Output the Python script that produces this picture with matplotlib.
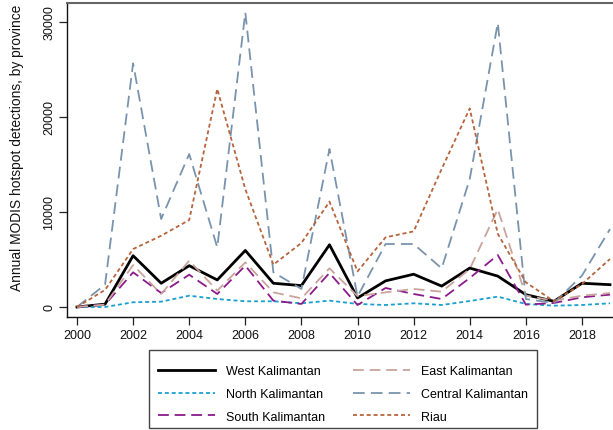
import matplotlib
matplotlib.use("Agg")
import matplotlib.pyplot as plt
from matplotlib.patches import Rectangle

plt.rcParams['font.family'] = ['Liberation Sans', 'DejaVu Sans']

years = list(range(2000, 2020))

west_kalimantan = [0, 300, 5400, 2500, 4350, 2850, 5950, 2500, 2250, 6550,
                   950, 2750, 3450, 2200, 4100, 3250, 1300, 600, 2500, 2350]
north_kalimantan = [0, 0, 500, 560, 1190, 840, 600, 600, 390, 670,
                    320, 210, 390, 210, 630, 1090, 320, 140, 210, 390]
south_kalimantan = [0, 250, 3650, 1470, 3400, 1370, 4350, 670, 320, 3580,
                    210, 2000, 1370, 840, 3050, 5470, 250, 420, 1020, 1300]
east_kalimantan = [0, 250, 4420, 1370, 4880, 1720, 4700, 1540, 910, 4070,
                   1150, 1540, 1900, 1610, 4000, 10300, 1190, 670, 1190, 1470]
central_kalimantan = [0, 2350, 25650, 9260, 16100, 6280, 31000, 3650, 1900, 16630,
                      1100, 6630, 6630, 4070, 13470, 29900, 840, 420, 3300, 8200]
riau = [0, 1800, 6100, 7500, 9160, 22950, 12400, 4460, 6740, 11090,
        3750, 7330, 7960, 14530, 20900, 7700, 2600, 600, 2420, 5050]

series = [
    ("West Kalimantan", west_kalimantan, "#000000", "-", 2.0),
    ("North Kalimantan", north_kalimantan, "#1a9fd0", (0, (2.2, 1.6)), 1.3),
    ("South Kalimantan", south_kalimantan, "#8b1a8b", (0, (6.0, 3.2)), 1.3),
    ("East Kalimantan", east_kalimantan, "#c9a39c", (0, (6.0, 3.2)), 1.3),
    ("Central Kalimantan", central_kalimantan, "#7a93ad", (0, (6.5, 3.4)), 1.3),
    ("Riau", riau, "#b5643c", (0, (2.2, 1.6)), 1.3),
]

W, H = 613, 431
fig = plt.figure(figsize=(W / 100, H / 100), dpi=100)
ax = fig.add_axes([67 / W, (H - 318) / H, (620 - 67) / W, (318 - 4) / H])

for name, vals, color, ls, lw in series:
    ax.plot(years, vals, color=color, linestyle=ls, linewidth=lw, label=name)

px_per_year = (610 - 77) / 19
ax.set_xlim(2000 - 10 / px_per_year, 2019 + 10 / px_per_year)
px_per_unit = (308 - 23) / 30000
ax.set_ylim(0 - 10 / px_per_unit, 30000 + 19 / px_per_unit)

ax.set_xticks(range(2000, 2020, 2))
ax.set_yticks([0, 10000, 20000, 30000])
ax.tick_params(axis='both', direction='out', length=5.5, width=0.9,
               labelsize=9, color='#222222', labelcolor='#111111')
ax.tick_params(axis='x', pad=3)
ax.tick_params(axis='y', pad=3)
for lab in ax.get_yticklabels():
    lab.set_rotation(90)
    lab.set_va('center')

for side in ('left', 'bottom'):
    ax.spines[side].set_color('#111111')
    ax.spines[side].set_linewidth(1.0)
ax.spines['top'].set_color('#666666')
ax.spines['top'].set_linewidth(1.5)
ax.spines['right'].set_visible(False)

fig.text(17 / W, (H - 148) / H, "Annual MODIS hotspot detections, by province",
         rotation=90, ha='center', va='center', fontsize=9.9, color='#111111')

# legend box outline
fig.patches.append(Rectangle((149 / W, (H - 429) / H), (537 - 149) / W, (429 - 351) / H,
                             transform=fig.transFigure, fill=False,
                             edgecolor='#444444', linewidth=1.0))

leg = fig.legend(loc='center', ncol=2,
                 bbox_to_anchor=(149 / W, (H - 395) / H, (537 - 149) / W, 0),
                 mode='expand', fontsize=9, frameon=False,
                 handlelength=4.6, handletextpad=0.9, labelspacing=0.85,
                 borderpad=0.7, borderaxespad=0)

fig.savefig("out.png", dpi=100)
